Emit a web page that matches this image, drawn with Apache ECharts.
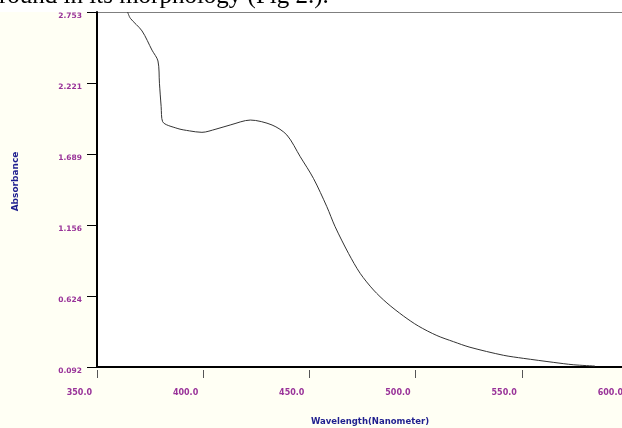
<!DOCTYPE html>
<html>
<head>
<meta charset="utf-8">
<script src="https://cdn.jsdelivr.net/npm/echarts@6/dist/echarts.min.js"></script>
<style>
html,body{margin:0;padding:0;background:#fffff4;}
#chart{width:622px;height:428px;}
</style>
</head>
<body>
<div id="chart"></div>
<script>
var headerText = 'round in its morphology (Fig 2.).';
var xAxisTitle = 'Wavelength(Nanometer)';
var yAxisTitle = 'Absorbance';
var yTickValues = [0.092, 0.624, 1.156, 1.689, 2.221, 2.753];
var xTickValues = [350, 400, 450, 500, 550, 600];
var wavelength = [364.4, 365.7, 371.2, 375.9, 378.7, 379.4, 380.2, 380.9, 387.7, 393.5, 399.4, 406.0, 412.7, 422.2, 432.4, 439.4, 445.7, 451.9, 458.2, 462.1, 468.4, 473.9, 480.2, 486.5, 494.3, 501.3, 510.0, 517.8, 525.6, 541.3, 550.7, 564.8, 574.2, 584.4];
var absorbance = [2.753, 2.706, 2.611, 2.467, 2.386, 2.219, 2.044, 1.931, 1.881, 1.862, 1.851, 1.875, 1.906, 1.943, 1.906, 1.831, 1.668, 1.506, 1.294, 1.144, 0.944, 0.794, 0.669, 0.572, 0.474, 0.399, 0.328, 0.282, 0.240, 0.180, 0.157, 0.127, 0.109, 0.099];

var points = wavelength.map(function (w, i) { return [w, absorbance[i]]; });

var chart = echarts.init(document.getElementById('chart'), null, {renderer: 'canvas'});
var labelColor = '#993399';
var nameColor = '#1f1f8f';
chart.setOption({
  animation: false,
  backgroundColor: '#fffff4',
  graphic: [
    {type: 'rect', left: 0, top: 0, shape: {width: 622, height: 12}, style: {fill: '#ffffff'}, z: 0, silent: true},
    {type: 'text', left: -1, top: -16, style: {text: headerText, font: '25px "Liberation Serif"', fill: '#000000'}, z: 1, silent: true}
  ],
  grid: {left: 97, right: -6, top: 12, bottom: 61, show: true, backgroundColor: '#ffffff', borderColor: '#000000', borderWidth: 1, containLabel: false, outerBoundsMode: 'none'},
  xAxis: [{
    type: 'value', min: xTickValues[0], max: xTickValues[xTickValues.length - 1], interval: 50,
    offset: 3,
    name: xAxisTitle, nameLocation: 'middle', nameGap: 47,
    nameTextStyle: {color: nameColor, fontFamily: 'DejaVu Sans', fontWeight: 'bold', fontSize: 8.5, padding: [0, 0, 0, 15]},
    axisLine: {show: false},
    axisTick: {show: true, length: 8, lineStyle: {color: '#555555', width: 1}},
    axisLabel: {color: labelColor, fontFamily: 'DejaVu Sans', fontWeight: 'bold', fontSize: 8, margin: 19,
      align: 'right', padding: [0, 5, 0, 0], showMaxLabel: true, showMinLabel: true,
      formatter: function (v) { return v.toFixed(1); }},
    splitLine: {show: false}
  }, {
    type: 'value', min: xTickValues[0], max: xTickValues[xTickValues.length - 1], position: 'bottom',
    axisLine: {show: true, onZero: false, lineStyle: {color: '#000000', width: 2}},
    axisTick: {show: false}, axisLabel: {show: false}, splitLine: {show: false}
  }],
  yAxis: {
    type: 'value', min: yTickValues[0], max: yTickValues[yTickValues.length - 1],
    name: yAxisTitle, nameLocation: 'middle', nameGap: 77, nameRotate: 90,
    nameTextStyle: {color: nameColor, fontFamily: 'DejaVu Sans', fontWeight: 'bold', fontSize: 9, padding: [0, 0, 0, 16]},
    axisLine: {show: true, onZero: false, lineStyle: {color: '#000000', width: 2}},
    axisTick: {show: true, length: 10, lineStyle: {color: '#000000', width: 1}, customValues: yTickValues},
    axisLabel: {color: labelColor, fontFamily: 'DejaVu Sans', fontWeight: 'bold', fontSize: 7.5, margin: 15,
      verticalAlign: 'top', customValues: yTickValues,
      formatter: function (v) { return v.toFixed(3); }},
    splitLine: {show: false}
  },
  series: [{
    type: 'line', xAxisIndex: 0, data: points, showSymbol: false, symbol: 'none',
    smooth: 0.3,
    lineStyle: {color: '#333333', width: 1}, clip: true
  }]
});
</script>
</body>
</html>
